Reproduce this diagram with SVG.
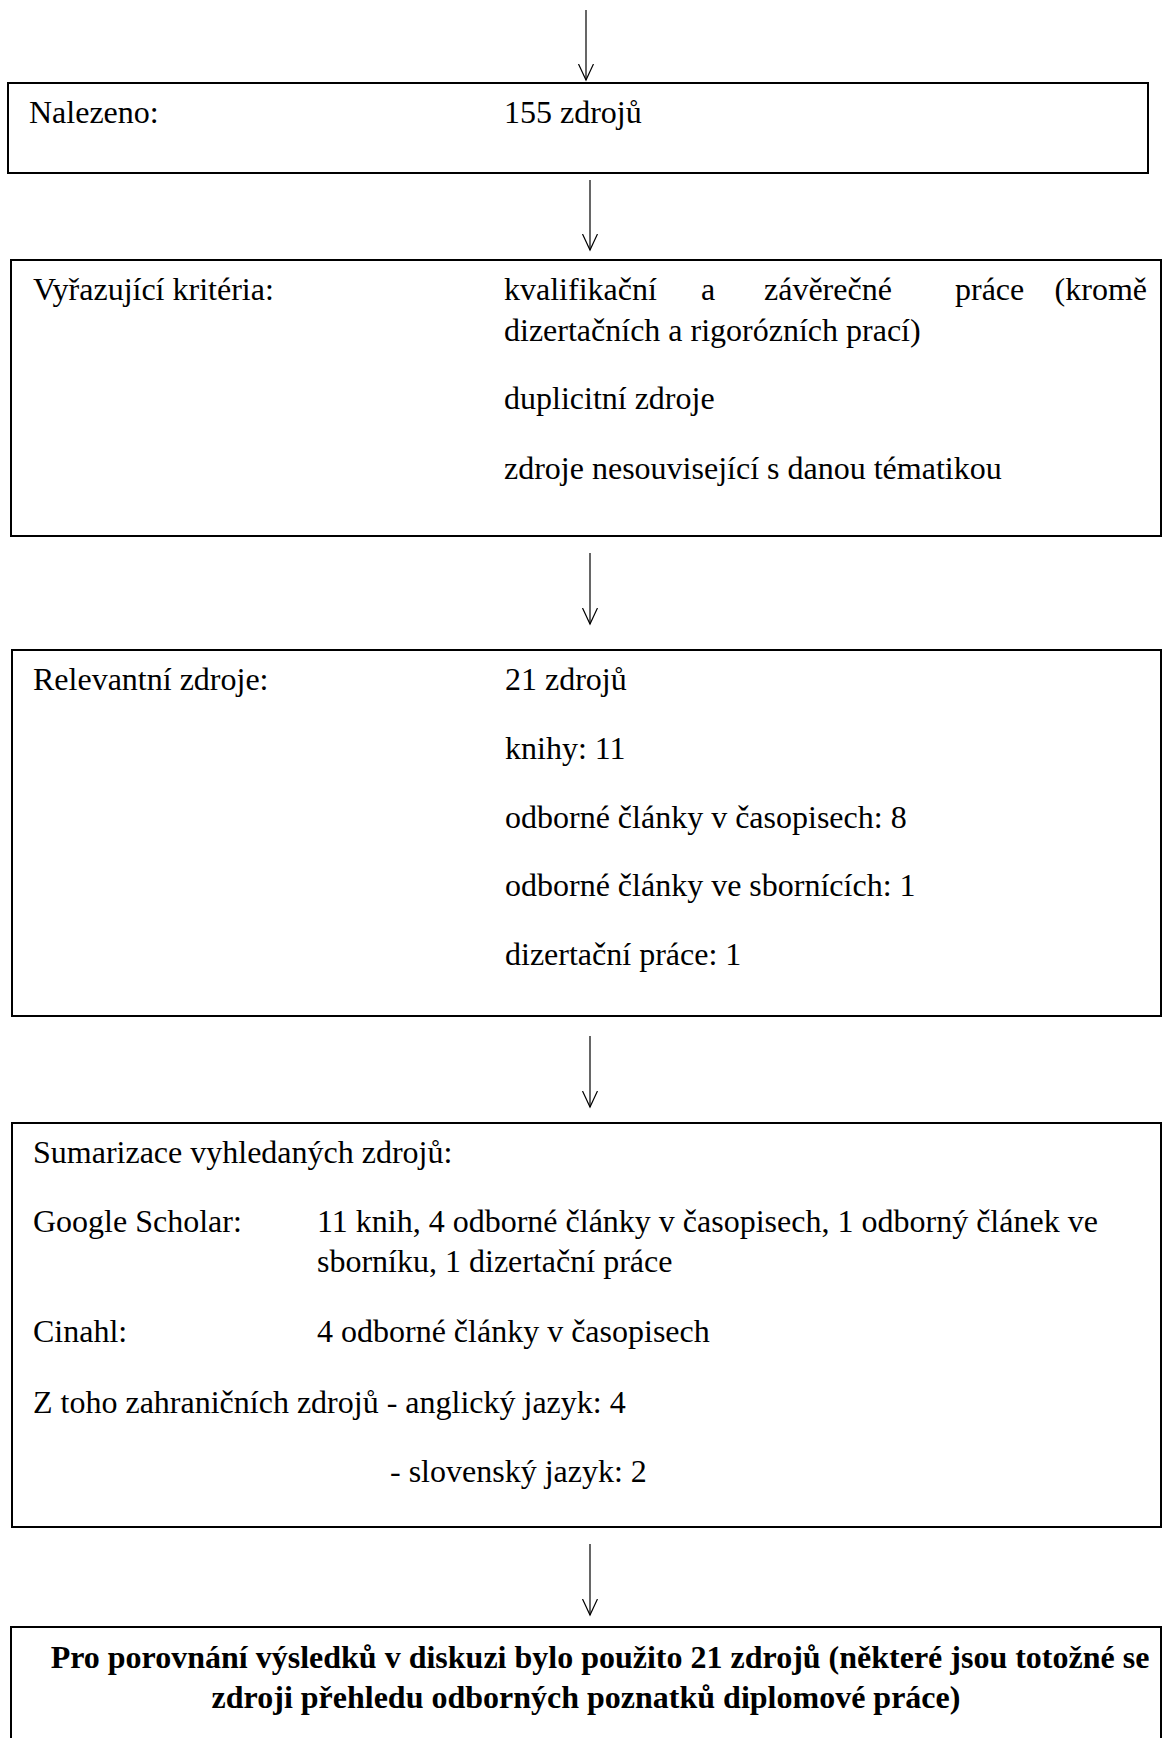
<svg xmlns="http://www.w3.org/2000/svg" width="1163" height="1738" viewBox="0 0 1163 1738">
<style>
.box{fill:#fff;stroke:#000;stroke-width:2}
.t{font-family:"Liberation Serif","Times New Roman",serif;font-size:32px;fill:#000}
.b{font-weight:bold;text-anchor:middle}
.e{text-anchor:end}
.c{stroke:#000;stroke-width:1.2;fill:none}
</style>
<defs>
<marker id="ah" markerWidth="18" markerHeight="18" refX="16" refY="7.5" orient="auto" markerUnits="userSpaceOnUse">
<path d="M0,0 L16,7.5 L0,15" fill="none" stroke="#000" stroke-width="1.2"/>
</marker>
</defs>
<rect width="1163" height="1738" fill="#fff"/>
<g id="connectors">
<line class="c" x1="586" y1="10" x2="586" y2="80" marker-end="url(#ah)"/>
<line class="c" x1="590" y1="180" x2="590" y2="250" marker-end="url(#ah)"/>
<line class="c" x1="590" y1="553" x2="590" y2="624" marker-end="url(#ah)"/>
<line class="c" x1="590" y1="1036" x2="590" y2="1107" marker-end="url(#ah)"/>
<line class="c" x1="590" y1="1544" x2="590" y2="1615" marker-end="url(#ah)"/>
</g>
<g id="n1">
<rect class="box" x="8" y="83" width="1140" height="90"/>
<text class="t" x="29" y="123">Nalezeno:</text>
<text class="t" x="504" y="123">155 zdrojů</text>
</g>
<g id="n2">
<rect class="box" x="11" y="260" width="1150" height="276"/>
<text class="t" x="33" y="300">Vyřazující kritéria:</text>
<text class="t" y="300"><tspan x="504">kvalifikační</tspan><tspan x="701">a</tspan><tspan x="764">závěrečné</tspan><tspan x="955">práce</tspan></text>
<text class="t e" x="1147" y="300">(kromě</text>
<text class="t" x="504" y="341">dizertačních a rigorózních prací)</text>
<text class="t" x="504" y="409">duplicitní zdroje</text>
<text class="t" x="504" y="479">zdroje nesouvisející s danou tématikou</text>
</g>
<g id="n3">
<rect class="box" x="12" y="650" width="1149" height="366"/>
<text class="t" x="33" y="690">Relevantní zdroje:</text>
<text class="t" x="505" y="690">21 zdrojů</text>
<text class="t" x="505" y="759">knihy: 11</text>
<text class="t" x="505" y="828">odborné články v časopisech: 8</text>
<text class="t" x="505" y="896">odborné články ve sbornících: 1</text>
<text class="t" x="505" y="965">dizertační práce: 1</text>
</g>
<g id="n4">
<rect class="box" x="12" y="1123" width="1149" height="404"/>
<text class="t" x="33" y="1163">Sumarizace vyhledaných zdrojů:</text>
<text class="t" x="33" y="1232">Google Scholar:</text>
<text class="t" x="317" y="1232">11 knih, 4 odborné články v časopisech, 1 odborný článek ve</text>
<text class="t" x="317" y="1272">sborníku, 1 dizertační práce</text>
<text class="t" x="33" y="1342">Cinahl:</text>
<text class="t" x="317" y="1342">4 odborné články v časopisech</text>
<text class="t" x="33" y="1413">Z toho zahraničních zdrojů - anglický jazyk: 4</text>
<text class="t" x="390" y="1482">- slovenský jazyk: 2</text>
</g>
<g id="n5">
<rect class="box" x="11" y="1627" width="1150" height="140"/>
<text class="t b" x="600" y="1668">Pro porovnání výsledků v diskuzi bylo použito 21 zdrojů (některé jsou totožné se</text>
<text class="t b" x="586" y="1708">zdroji přehledu odborných poznatků diplomové práce)</text>
</g>
</svg>
